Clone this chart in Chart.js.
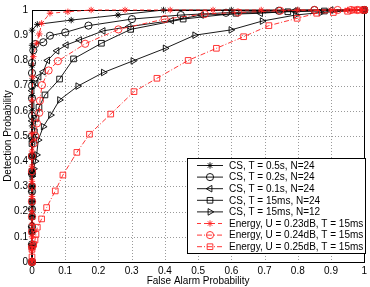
<!DOCTYPE html>
<html><head><meta charset="utf-8">
<script src="https://cdn.jsdelivr.net/npm/chart.js@4/dist/chart.umd.min.js"></script>
<style>html,body{margin:0;padding:0;background:#fff}#wrap{width:370px;height:287px}</style>
</head><body><div id="wrap"><canvas id="c" width="370" height="287"></canvas></div>
<script>
// ---- data ----
const xTicks = [0,0.1,0.2,0.3,0.4,0.5,0.6,0.7,0.8,0.9,1];
const yTicks = [0,0.1,0.2,0.3,0.4,0.5,0.6,0.7,0.8,0.9,1];
const seriesNames = ["CS, T = 0.5s, N=24","CS, T = 0.2s, N=24","CS, T = 0.1s, N=24","CS, T = 15ms, N=24","CS, T = 15ms, N=12","Energy, U = 0.23dB, T = 15ms","Energy, U = 0.24dB, T = 15ms","Energy, U = 0.25dB, T = 15ms"];

const cs05Fa = [0,0,0,0,0,0,0,0,0,0,0,0,0,0,0,0,0.016,0.118,0.259,0.396,0.6,0.8,1];
const cs05Pd = [0,0.06,0.12,0.18,0.24,0.3,0.36,0.42,0.48,0.54,0.6,0.66,0.72,0.78,0.86,0.92,0.943,0.96,0.98,1,1,1,1];

const cs02Fa = [0,0,0,0,0,0,0,0,0,0,0,0,0,0.004,0.01,0.034,0.054,0.1,0.17,0.301,0.448,0.584,0.743,0.85,1];
const cs02Pd = [0,0.07,0.14,0.21,0.28,0.35,0.42,0.5,0.58,0.65,0.7,0.75,0.79,0.84,0.865,0.872,0.898,0.911,0.938,0.964,0.98,0.989,0.997,1,1];

const cs01Fa = [0,0,0,0,0,0,0,0,0,0,0,0.012,0.021,0.034,0.047,0.075,0.103,0.143,0.214,0.292,0.42,0.51,0.688,0.79,0.9,1];
const cs01Pd = [0,0.07,0.14,0.21,0.28,0.35,0.42,0.49,0.56,0.62,0.68,0.71,0.735,0.755,0.8,0.838,0.861,0.881,0.917,0.934,0.958,0.98,0.987,0.996,1,1];

const cs15Fa = [0,0,0,0,0,0,0,0,0,0.007,0.012,0.021,0.039,0.083,0.125,0.209,0.297,0.455,0.614,0.77,0.88,1];
const cs15Pd = [0,0.06,0.12,0.18,0.24,0.3,0.36,0.42,0.47,0.517,0.57,0.614,0.663,0.726,0.806,0.868,0.923,0.964,0.987,0.993,0.996,1];

const cs12Fa = [0,0,0,0,0,0,0,0.005,0.01,0.014,0.019,0.034,0.056,0.083,0.138,0.215,0.304,0.401,0.49,0.599,0.693,0.793,0.87,1];
const cs12Pd = [0,0.06,0.12,0.18,0.24,0.3,0.34,0.37,0.4,0.425,0.484,0.537,0.583,0.643,0.698,0.752,0.798,0.848,0.9,0.921,0.956,0.98,0.99,1];

const e23Fa = [0,0,0,0,0,0,0,0,0,0,0,0.002,0.004,0.014,0.022,0.029,0.054,0.108,0.178,0.28,0.416,0.545,0.69,0.8,0.9,0.95,0.97,0.99,1];
const e23Pd = [0,0.05,0.1,0.15,0.2,0.26,0.32,0.38,0.44,0.51,0.64,0.735,0.815,0.868,0.905,0.947,0.987,0.993,1,1,1,1,1,1,1,1,1,1,1];

const e24Fa = [0,0,0,0,0,0,0,0,0.005,0.01,0.015,0.022,0.024,0.03,0.05,0.078,0.16,0.26,0.399,0.52,0.62,0.747,0.85,0.92,0.96,0.98,1];
const e24Pd = [0,0.06,0.12,0.18,0.24,0.3,0.36,0.42,0.47,0.5,0.55,0.592,0.64,0.702,0.76,0.797,0.866,0.923,0.964,0.984,0.99,0.997,1,1,1,1,1];

const e25Fa = [0,0,0,0.005,0.009,0.012,0.016,0.029,0.044,0.07,0.093,0.135,0.173,0.237,0.307,0.376,0.47,0.555,0.637,0.713,0.798,0.857,0.907,0.95,0.97,0.985,1];
const e25Pd = [0,0.02,0.05,0.07,0.087,0.11,0.138,0.171,0.216,0.282,0.345,0.435,0.507,0.587,0.676,0.729,0.8,0.848,0.894,0.938,0.967,0.987,0.99,0.995,1,1,1];

// ---- build ----
const RED = '#ff2020';
function pts(fa, pd){ return fa.map((v,i)=>({x:v, y:pd[i]})); }
const styles = [
  {color:'#000', dash:[], point:'star', rot:0, r:3.2},
  {color:'#000', dash:[], point:'circle', rot:0, r:3.6},
  {color:'#000', dash:[], point:'triangle', rot:-90, r:3.8},
  {color:'#000', dash:[], point:'rect', rot:0, r:4},
  {color:'#000', dash:[], point:'triangle', rot:90, r:3.8},
  {color:RED, dash:[4,3], point:'star', rot:0, r:3.2},
  {color:RED, dash:[5,2,1,2], point:'circle', rot:0, r:3.6},
  {color:RED, dash:[5,2,1,2], point:'rect', rot:0, r:4}
];
const allData = [pts(cs05Fa,cs05Pd),pts(cs02Fa,cs02Pd),pts(cs01Fa,cs01Pd),pts(cs15Fa,cs15Pd),pts(cs12Fa,cs12Pd),pts(e23Fa,e23Pd),pts(e24Fa,e24Pd),pts(e25Fa,e25Pd)];
const datasets = allData.map((d,i)=>({
  label: seriesNames[i], data: d,
  borderColor: styles[i].color, backgroundColor: 'rgba(0,0,0,0)',
  borderWidth: 0.9, borderDash: styles[i].dash,
  pointStyle: styles[i].point, pointRotation: styles[i].rot,
  pointRadius: styles[i].r, pointBorderWidth: 0.9,
  pointBorderColor: styles[i].color, pointBackgroundColor: 'rgba(0,0,0,0)',
  showLine: true, tension: 0, clip: false
})).reverse();

const FONT = "'Liberation Sans', Arial, Helvetica, sans-serif";

const framePlugin = {
  id: 'frame',
  beforeDatasetsDraw(chart){
    const a = chart.chartArea, ctx = chart.ctx;
    const xs = chart.scales.x, ys = chart.scales.y;
    ctx.save();
    ctx.strokeStyle='#9a9a9a'; ctx.lineWidth=1; ctx.setLineDash([1,2]);
    xTicks.forEach(v=>{
      if(v===0||v===1) return;
      const px = Math.round(xs.getPixelForValue(v))+0.5;
      ctx.beginPath(); ctx.moveTo(px,a.top); ctx.lineTo(px,a.bottom); ctx.stroke();
    });
    yTicks.forEach(v=>{
      if(v===0||v===1) return;
      const py = Math.round(ys.getPixelForValue(v))+0.5;
      ctx.beginPath(); ctx.moveTo(a.left,py); ctx.lineTo(a.right,py); ctx.stroke();
    });
    ctx.setLineDash([]);
    ctx.strokeStyle='#000'; ctx.lineWidth=1;
    ctx.strokeRect(Math.round(a.left)+0.5, Math.round(a.top)+0.5, Math.round(a.right-a.left), Math.round(a.bottom-a.top));
    ctx.restore();
  },
  afterDraw(chart){
    const ctx = chart.ctx, a = chart.chartArea;
    ctx.save();
    ctx.fillStyle = '#000';
    ctx.font = '10px ' + FONT;
    ctx.textAlign='center'; ctx.textBaseline='middle';
    ctx.fillText('False Alarm Probability', (a.left+a.right)/2, 281);
    ctx.translate(8, (a.top+a.bottom)/2);
    ctx.rotate(-Math.PI/2);
    ctx.fillText('Detection Probability', 0, 0);
    ctx.restore();
    // legend
    ctx.save();
    const bx=187.5, by=158.5, bw=178, bh=95;
    ctx.fillStyle='#fff'; ctx.fillRect(bx,by,bw,bh);
    ctx.strokeStyle='#000'; ctx.lineWidth=1; ctx.strokeRect(bx,by,bw,bh);
    ctx.font = '10px ' + FONT; ctx.textAlign='left'; ctx.textBaseline='middle';
    for(let i=0;i<8;i++){
      const y = 165.5 + i*11.6;
      const s = styles[i];
      ctx.strokeStyle=s.color; ctx.lineWidth=0.9; ctx.setLineDash(s.dash);
      ctx.beginPath(); ctx.moveTo(197,y); ctx.lineTo(223,y); ctx.stroke();
      ctx.setLineDash([]);
      ctx.fillStyle='rgba(0,0,0,0)'; ctx.strokeStyle=s.color; ctx.lineWidth=0.9;
      Chart.helpers.drawPoint(ctx, {pointStyle:s.point, rotation:s.rot, radius:s.r, borderWidth:0.9}, 210, y);
      ctx.fillStyle='#000';
      ctx.fillText(seriesNames[i], 229, y+0.5);
    }
    ctx.restore();
  }
};

new Chart(document.getElementById('c'), {
  type: 'scatter',
  data: { datasets },
  options: {
    responsive: false, animation: false,
    layout: { padding: { top: 10, right: 2, left: 0, bottom: 0 } },
    plugins: { legend: {display:false}, tooltip:{enabled:false} },
    scales: {
      x: { type:'linear', min:0, max:1,
        afterFit(s){ s.height = 25; },
        afterBuildTicks(s){ s.ticks = xTicks.map(v=>({value:v})); },
        ticks: { color:'#000', font:{family:FONT, size:10}, padding:3, maxRotation:0,
          callback:(v)=> String(+v.toFixed(1)) },
        grid: { display:false, drawTicks:false },
        border: { display:false }
      },
      y: { type:'linear', min:0, max:1,
        afterFit(s){ s.width = 32; },
        afterBuildTicks(s){ s.ticks = yTicks.map(v=>({value:v})); },
        ticks: { color:'#000', font:{family:FONT, size:10}, padding:4,
          callback:(v)=> String(+v.toFixed(1)) },
        grid: { display:false, drawTicks:false },
        border: { display:false }
      }
    }
  },
  plugins: [framePlugin]
});
</script>
</body></html>
